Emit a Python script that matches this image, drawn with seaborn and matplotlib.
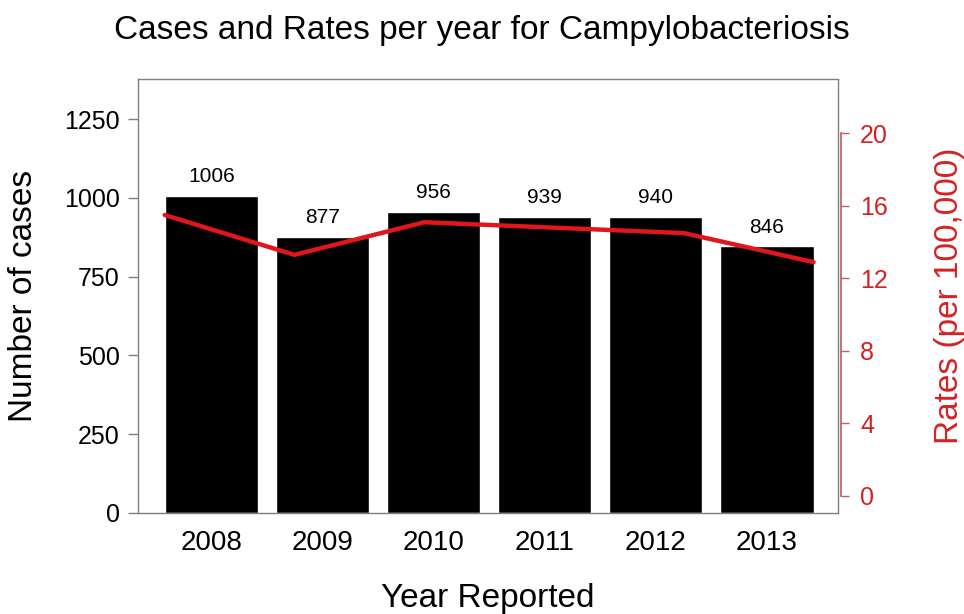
import numpy as np
import pandas as pd
import matplotlib
matplotlib.use("Agg")
import matplotlib.pyplot as plt
import seaborn as sns

years = ["2008", "2009", "2010", "2011", "2012", "2013"]
cases = [1006, 877, 956, 939, 940, 846]
rates = [15.5, 13.3, 15.1, 14.8, 14.5, 12.9]
case_ticks = [0, 250, 500, 750, 1000, 1250]
rate_ticks = [0, 4, 8, 12, 16, 20]

RED = "#E0161B"
RED_TEXT = "#D42222"
GRAY = "#7f7f7f"

sns.set_theme(style="white")
plt.rcParams["font.family"] = ["Liberation Sans", "DejaVu Sans"]
plt.rcParams["text.color"] = "black"
plt.rcParams["axes.labelcolor"] = "black"
plt.rcParams["xtick.color"] = "black"
plt.rcParams["ytick.color"] = "black"

fig = plt.figure(figsize=(9.64, 6.14), dpi=100)
ax = fig.add_axes([0.1432, 0.1645, 0.7261, 0.7068])

bar_w = 0.84
df = pd.DataFrame({"year": years, "cases": cases})
sns.barplot(data=df, x="year", y="cases", color="black", saturation=1,
            width=bar_w, ax=ax)

ax.set_xlim(-0.66, 5.64)
ax.set_ylim(0, 1377)
ax.set_yticks(case_ticks)
ax.set_yticklabels([str(t) for t in case_ticks])
ax.tick_params(axis="y", direction="out", length=7, width=1, color=GRAY,
               pad=6, labelcolor="black", labelsize=18, left=True)
ax.tick_params(axis="x", length=0, pad=12, labelsize=20, labelcolor="black")
for s in ax.spines.values():
    s.set_color(GRAY)
    s.set_linewidth(1)
ax.set_xlabel("Year Reported", fontsize=24, labelpad=20, color="black")
ax.set_ylabel("Number of cases", fontsize=24, labelpad=18, color="black")

for i, v in enumerate(cases):
    ax.annotate(str(v), xy=(i, v), xytext=(0, 7), textcoords="offset points",
                ha="center", va="bottom", fontsize=15, color="black")

# rate line runs from the outer edge of the first bar to the outer edge of the last
ax2 = ax.twinx()
n = len(years)
line_x = np.linspace(-bar_w / 2, (n - 1) + bar_w / 2, n)
sns.lineplot(x=line_x, y=rates, color=RED, linewidth=3.2, ax=ax2)
ax2.set_xlim(-0.66, 5.64)
ax2.set_ylim(-0.94, 23.0)
ax2.set_yticks(rate_ticks)
ax2.set_yticklabels([str(t) for t in rate_ticks])
ax2.tick_params(axis="y", direction="out", length=6, width=1, color="#c06060",
                pad=8, right=True, labelsize=18, labelcolor=RED_TEXT)
for side in ["top", "bottom", "left"]:
    ax2.spines[side].set_visible(False)
ax2.spines["right"].set_color("#c06060")
ax2.spines["right"].set_bounds(0, 20)
ax2.spines["right"].set_position(("outward", 2))
ax2.set_ylabel("Rates (per 100,000)", fontsize=24, color=RED_TEXT, labelpad=33)

fig.suptitle("Cases and Rates per year for Campylobacteriosis", fontsize=24,
             y=0.975, color="black")

fig.savefig("out.png", dpi=100)
